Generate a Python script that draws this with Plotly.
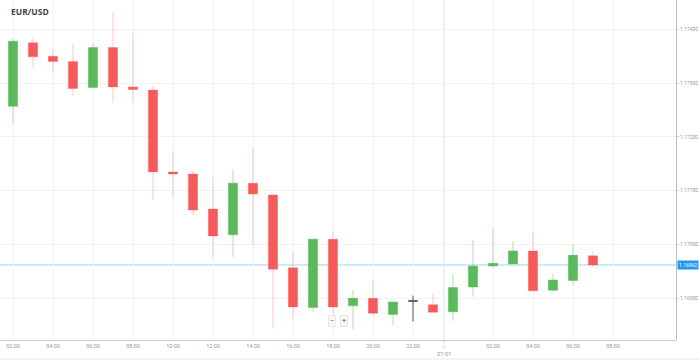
import plotly.graph_objects as go

# ---- data ----
times = [
    "2018-06-30 02:00", "2018-06-30 03:00", "2018-06-30 04:00", "2018-06-30 05:00",
    "2018-06-30 06:00", "2018-06-30 07:00", "2018-06-30 08:00", "2018-06-30 09:00",
    "2018-06-30 10:00", "2018-06-30 11:00", "2018-06-30 12:00", "2018-06-30 13:00",
    "2018-06-30 14:00", "2018-06-30 15:00", "2018-06-30 16:00", "2018-06-30 17:00",
    "2018-06-30 18:00", "2018-06-30 19:00", "2018-06-30 20:00", "2018-06-30 21:00",
    "2018-06-30 22:00", "2018-06-30 23:00", "2018-07-01 00:00", "2018-07-01 01:00",
    "2018-07-01 02:00", "2018-07-01 03:00", "2018-07-01 04:00", "2018-07-01 05:00",
    "2018-07-01 06:00", "2018-07-01 07:00",
]
open_ = [1.17257, 1.17375, 1.17350, 1.17340, 1.17292, 1.17366, 1.17293, 1.17287,
         1.17135, 1.17131, 1.17066, 1.17018, 1.17114, 1.17092, 1.16957, 1.16883,
         1.17010, 1.16886, 1.16900, 1.16870, 1.16895, 1.16888, 1.16875, 1.16921,
         1.16960, 1.16964, 1.16988, 1.16915, 1.16933, 1.16979]
high = [1.17383, 1.17385, 1.17362, 1.17373, 1.17374, 1.17433, 1.17393, 1.17294,
        1.17174, 1.17137, 1.17126, 1.17140, 1.17180, 1.17093, 1.16986, 1.17010,
        1.17025, 1.16915, 1.16935, 1.16893, 1.16905, 1.16909, 1.16946, 1.17008,
        1.17030, 1.17006, 1.17024, 1.16946, 1.17000, 1.16987]
low = [1.17225, 1.17329, 1.17319, 1.17277, 1.17292, 1.17264, 1.17264, 1.17083,
       1.17087, 1.17054, 1.16976, 1.16977, 1.16998, 1.16844, 1.16862, 1.16874,
       1.16872, 1.16843, 1.16869, 1.16850, 1.16857, 1.16874, 1.16858, 1.16903,
       1.16957, 1.16964, 1.16914, 1.16912, 1.16925, 1.16959]
close = [1.17378, 1.17349, 1.17340, 1.17290, 1.17366, 1.17293, 1.17288, 1.17135,
         1.17131, 1.17064, 1.17016, 1.17114, 1.17094, 1.16954, 1.16884, 1.17010,
         1.16884, 1.16900, 1.16872, 1.16893, 1.16895, 1.16874, 1.16920, 1.16960,
         1.16965, 1.16988, 1.16914, 1.16934, 1.16980, 1.16962]
current_price = 1.16962
y_ticks = [1.16900, 1.17000, 1.17100, 1.17200, 1.17300, 1.17400]
x_tickvals = ["2018-06-30 02:00", "2018-06-30 04:00", "2018-06-30 06:00", "2018-06-30 08:00",
              "2018-06-30 10:00", "2018-06-30 12:00", "2018-06-30 14:00", "2018-06-30 16:00",
              "2018-06-30 18:00", "2018-06-30 20:00", "2018-06-30 22:00",
              "2018-07-01 02:00", "2018-07-01 04:00", "2018-07-01 06:00", "2018-07-01 08:00"]
x_ticktext = ["02:00", "04:00", "06:00", "08:00", "10:00", "12:00", "14:00", "16:00",
              "18:00", "20:00", "22:00", "02:00", "04:00", "06:00", "08:00"]
day_label = "07/01"

GREEN = "#5cb85c"
RED = "#f55b5b"

doji_idx = [i for i in range(len(times)) if open_[i] == close[i]]
main_idx = [i for i in range(len(times)) if open_[i] != close[i]]

def pick(arr, idx):
    return [arr[i] for i in idx]

fig = go.Figure()
fig.add_trace(go.Candlestick(
    x=pick(times, main_idx), open=pick(open_, main_idx), high=pick(high, main_idx),
    low=pick(low, main_idx), close=pick(close, main_idx),
    increasing=dict(line=dict(color="rgba(92,184,92,0.45)", width=1), fillcolor=GREEN),
    decreasing=dict(line=dict(color="rgba(245,91,91,0.35)", width=1), fillcolor=RED),
    whiskerwidth=0, showlegend=False, hoverinfo="skip",
))
fig.add_trace(go.Candlestick(
    x=pick(times, doji_idx), open=pick(open_, doji_idx), high=pick(high, doji_idx),
    low=pick(low, doji_idx), close=pick(close, doji_idx),
    increasing=dict(line=dict(color="#555555", width=1), fillcolor="#555555"),
    decreasing=dict(line=dict(color="#555555", width=1), fillcolor="#555555"),
    whiskerwidth=0, showlegend=False, hoverinfo="skip",
))

SEP_X = "2018-06-30 23:33"

shapes = [
    # current price line
    dict(type="line", xref="paper", x0=0, x1=1, yref="y", y0=current_price, y1=current_price,
         line=dict(color="#9fd0f5", width=1), layer="below"),
    # day separator
    dict(type="line", xref="x", x0=SEP_X, x1=SEP_X,
         yref="paper", y0=0, y1=1, line=dict(color="#e4e4e4", width=1), layer="below"),
    dict(type="line", xref="x", x0=SEP_X, x1=SEP_X,
         yref="paper", y0=0, y1=-0.025, line=dict(color="#cccccc", width=1, dash="dot")),
    # bottom border
    dict(type="line", xref="paper", x0=0, x1=1.04, yref="paper", y0=-0.056, y1=-0.056,
         line=dict(color="#e6e6e6", width=1)),
]

annotations = [
    dict(text="<b>EUR/USD</b>", xref="paper", yref="paper", x=0.013, y=0.965,
         xanchor="left", yanchor="middle", showarrow=False,
         font=dict(family="Open Sans", size=8.5, color="#444444")),
    dict(text=f"{current_price:.5f}", xref="paper", yref="y", x=1, y=current_price,
         xanchor="left", yanchor="middle", xshift=1, showarrow=False,
         bgcolor="#2196f3", borderpad=1,
         font=dict(family="Roboto", size=5, color="#ffffff")),
    dict(text=day_label, xref="x", yref="paper", x=SEP_X, y=-0.041,
         xanchor="center", yanchor="middle", showarrow=False,
         font=dict(family="Roboto", size=5.5, color="#999999")),
    dict(text="−", xref="paper", yref="paper", x=331.5 / 676, y=(340 - 320.5) / 340,
         xanchor="center", yanchor="middle", showarrow=False,
         bgcolor="#f7f7f7", bordercolor="#e8e8e8", borderwidth=1, borderpad=1,
         font=dict(family="Roboto", size=7, color="#555555")),
    dict(text="+", xref="paper", yref="paper", x=343.5 / 676, y=(340 - 320.5) / 340,
         xanchor="center", yanchor="middle", showarrow=False,
         bgcolor="#f7f7f7", bordercolor="#e8e8e8", borderwidth=1, borderpad=1,
         font=dict(family="Roboto", size=7, color="#555555")),
]

fig.update_layout(
    width=699, height=360,
    margin=dict(l=0, r=23, t=0, b=20),
    paper_bgcolor="#ffffff", plot_bgcolor="#ffffff",
    boxgap=0.34,
    shapes=shapes, annotations=annotations,
    xaxis=dict(
        type="date", range=["2018-06-30 01:21", "2018-07-01 11:09"],
        rangeslider=dict(visible=False),
        tickmode="array", tickvals=x_tickvals, ticktext=x_ticktext,
        showgrid=True, gridcolor="#f3f3f3", gridwidth=1,
        showline=True, linecolor="#cfcfcf", linewidth=1,
        ticks="", zeroline=False,
        tickfont=dict(family="Roboto", size=5.5, color="#999999"),
    ),
    yaxis=dict(
        side="right", range=[1.168225, 1.174545],
        tickmode="array", tickvals=y_ticks, ticktext=[f"{v:.5f}" for v in y_ticks],
        showgrid=True, gridcolor="#f3f3f3", gridwidth=1,
        showline=True, linecolor="#bdbdbd", linewidth=1,
        ticks="outside", ticklen=2, tickcolor="#cccccc",
        zeroline=False,
        tickfont=dict(family="Roboto", size=5, color="#999999"),
    ),
)

fig.write_html(
    "out.html",
    config={"displayModeBar": False},
    post_script="document.body.style.margin='0';document.body.style.overflow='hidden';",
)
